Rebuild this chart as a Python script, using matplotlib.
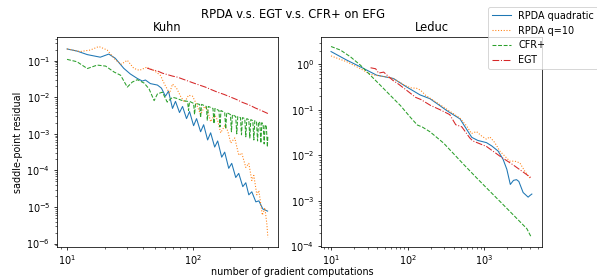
import matplotlib
matplotlib.use('Agg')
import matplotlib.pyplot as plt

# ---- Kuhn ----
kuhn_quad_x = [10, 12.0, 14.5, 18.4, 21.5, 24.2, 28.3, 31.9, 36.3, 39.8,
               42.1, 46.1, 52.5, 56.5, 60.8, 64.3, 69.2, 73.1, 78.7, 83.2,
               89.5, 94.6, 101.9, 107.6, 115.9, 122.5, 131.8, 139.3, 150, 158.5,
               170.6, 180.3, 194.1, 205.1, 220.8, 233.3, 251.2, 265.5, 280.5, 296.5,
               319.2, 337.3, 363.1, 396]
kuhn_quad_y = [0.21, 0.184, 0.147, 0.125, 0.152, 0.117, 0.062, 0.0435, 0.0327, 0.0278,
               0.0297, 0.0237, 0.0216, 0.0178, 0.0107, 0.0147, 0.00495, 0.00774, 0.00383, 0.00562,
               0.00261, 0.00408, 0.00167, 0.00261, 0.00114, 0.00178, 0.00068, 0.00107, 0.000435, 0.00064,
               0.00023, 0.000316, 0.000114, 0.000156, 6.4e-5, 8.3e-5, 3.6e-5, 4.6e-5, 2.15e-5, 2.6e-5,
               1.38e-5, 1.47e-5, 8.8e-6, 7.7e-6]

kuhn_q10_x = [10, 12.7, 15.3, 17.9, 20.9, 24.2, 27.0, 30.2, 34.0, 37.7,
              42.9, 49.2, 55.5, 59.7, 65.5, 69.2, 74.5, 80.2, 86.3, 92.9,
              100, 107.6, 115.9, 124.7, 131.8, 139.3, 150, 158.5, 167.5, 180.3,
              190.5, 201.4, 216.8, 233.3, 246.6, 265.5, 280.5, 296.5, 307.6, 325.1,
              337.3, 359.7, 376.7, 390.8, 398]
kuhn_q10_y = [0.21, 0.178, 0.196, 0.245, 0.196, 0.107, 0.080, 0.103, 0.062, 0.0545,
              0.066, 0.0545, 0.0396, 0.023, 0.0129, 0.023, 0.0178, 0.0107, 0.00726, 0.0114,
              0.0107, 0.0064, 0.00337, 0.00562, 0.00435, 0.00215, 0.00337, 0.0023, 0.00107, 0.00167,
              0.00121, 0.000562, 0.000774, 0.000261, 0.000297, 0.000121, 0.000156, 5.3e-5, 7.3e-5, 2.15e-5,
              2.8e-5, 6.0e-6, 9.4e-6, 3.4e-6, 1.47e-6]

kuhn_cfr_x = [10, 12.0, 14.5, 17.4, 20.3, 23.6, 26.7, 30.2, 33.1, 36.3,
              41.1, 45.0, 49.4, 52.5, 57.5, 62.8, 69.2, 74.5, 81.7,
              91.2, 92.9, 94.6, 101.9, 103.7, 105.7, 113.8, 115.9, 118.0,
              128.7, 131.1, 133.5, 145.4, 148.1, 150.8, 162.3, 165.3, 168.4,
              180.3, 183.7, 187.1, 200.3, 204.0, 207.8, 220.8, 224.9, 229.1,
              240.8, 245.3, 249.8, 260.6, 265.5, 270.4, 280.5, 285.8, 291.1,
              302.0, 307.6, 313.3, 323.3, 329.4, 335.5, 343.6, 350.0, 356.5,
              365.1, 371.9, 378.8, 387.3, 394.5, 398]
kuhn_cfr_y = [0.109, 0.0938, 0.0611, 0.076, 0.0713, 0.0495, 0.0401, 0.019, 0.0261, 0.0303,
              0.0245, 0.017, 0.0081, 0.0124, 0.0138, 0.0074, 0.0100, 0.00938, 0.00826,
              0.00774, 0.00435, 0.00774, 0.00681, 0.00337, 0.00681, 0.00639, 0.00278, 0.00639,
              0.00562, 0.0023, 0.00562, 0.00495, 0.0019, 0.00495, 0.00435, 0.00156, 0.00435,
              0.00383, 0.00138, 0.00383, 0.00337, 0.00114, 0.00337, 0.00297, 0.0010, 0.00297,
              0.00278, 0.00094, 0.00278, 0.00261, 0.00083, 0.00261, 0.00245, 0.00077, 0.00245,
              0.0023, 0.00068, 0.0023, 0.00215, 0.00064, 0.00215, 0.00202, 0.00056, 0.00202,
              0.00178, 0.00053, 0.00178, 0.00156, 0.000435, 0.0009]

kuhn_egt_x = [43.4, 47.9, 52.5, 57.5, 63.1, 69.2, 75.9, 83.2, 91.2, 100, 112,
              126, 141, 158, 178, 200, 224, 251, 282, 316, 355, 398]
kuhn_egt_y = [0.063, 0.056, 0.0525, 0.0457, 0.0417, 0.038, 0.0355, 0.0316, 0.0282, 0.0251, 0.0219,
              0.0191, 0.0162, 0.0138, 0.012, 0.0102, 0.0087, 0.0072, 0.0062, 0.0051, 0.0043, 0.0036]

# ---- Leduc ----
leduc_quad_x = [10, 15.9, 26.4, 39.3, 65.0, 97.0, 144.8, 195.6, 262, 323.4,
                482.8, 585.4, 686.6, 822.4, 1069, 1253, 1515, 1762, 1969, 2187,
                2408, 2636, 2825, 3215, 3737, 3934, 4179]
leduc_quad_y = [1.905, 1.246, 0.815, 0.578, 0.489, 0.318, 0.2133, 0.1756, 0.1246, 0.0965,
                0.0631, 0.0378, 0.0249, 0.0213, 0.01905, 0.0161, 0.01246, 0.00815, 0.00496, 0.0023,
                0.00283, 0.00293, 0.00268, 0.00153, 0.00121, 0.00131, 0.001416]

leduc_q10_x = [10, 16.3, 24.3, 32.8, 54.3, 66.2, 91.4, 109.4, 131.1, 147.9,
               171.9, 262, 478.4, 585.4, 680.4, 790.7, 919.1, 1069, 1180, 1372,
               1594, 1854, 2154, 2504, 2911, 3384, 3934]
leduc_q10_y = [1.53, 1.125, 0.798, 0.60, 0.522, 0.479, 0.3467, 0.305, 0.2974, 0.2685,
               0.2078, 0.1312, 0.0664, 0.0448, 0.0302, 0.0334, 0.0268, 0.02267, 0.0255, 0.01905,
               0.01246, 0.00965, 0.00747, 0.00747, 0.00685, 0.00448, 0.00318]

leduc_cfr_x = [10, 13.31, 17.98, 24.3, 32.8, 44.4, 59.9, 81.0, 109.4, 133.9,
               155.6, 195.6, 292.9, 395.8, 534.8, 798, 1191, 1782, 2660, 3594, 4115]
leduc_cfr_y = [2.46, 2.047, 1.453, 0.95, 0.57, 0.3415, 0.2048, 0.1227, 0.0674, 0.0464,
               0.0419, 0.033, 0.01877, 0.01096, 0.0064, 0.00318, 0.00161, 0.000815, 0.000411,
               0.000246, 0.000158]

leduc_egt_x = [32.8, 38.2, 41.8, 48.6, 63.7, 76.3, 97.0, 127.2, 147.9, 199.8, 262,
               354, 424.2, 508.1, 646.3, 707.4, 1069, 1594, 2358, 3253, 4179]
leduc_egt_y = [0.84, 0.798, 0.641, 0.674, 0.448, 0.365, 0.2685, 0.1877, 0.1694, 0.1246, 0.1015,
               0.0786, 0.0471, 0.0425, 0.02423, 0.0208, 0.0157, 0.00965, 0.00625, 0.00425, 0.00313]

labels = ['RPDA quadratic', 'RPDA q=10', 'CFR+', 'EGT']
styles = ['-', ':', '--', '-.']
colors = ['tab:blue', 'tab:orange', 'tab:green', 'tab:red']

DPI = 69


def plot_game(ax, series, title):
    for (xs, ys), lab, ls, c in zip(series, labels, styles, colors):
        ax.plot(xs, ys, ls, color=c, lw=1.1, label=lab)
    ax.set_xscale('log')
    ax.set_yscale('log')
    ax.set_title(title)


fig = plt.figure(figsize=(597 / DPI, 280 / DPI), dpi=DPI)
ax1 = fig.add_axes([0.0955, 0.118, 0.370, 0.75])
ax2 = fig.add_axes([0.5377, 0.118, 0.370, 0.75])

plot_game(ax1, [(kuhn_quad_x, kuhn_quad_y), (kuhn_q10_x, kuhn_q10_y),
                (kuhn_cfr_x, kuhn_cfr_y), (kuhn_egt_x, kuhn_egt_y)], 'Kuhn')
plot_game(ax2, [(leduc_quad_x, leduc_quad_y), (leduc_q10_x, leduc_q10_y),
                (leduc_cfr_x, leduc_cfr_y), (leduc_egt_x, leduc_egt_y)], 'Leduc')

ax1.set_ylabel('saddle-point residual')
fig.text(0.49, 0.95, 'RPDA v.s. EGT v.s. CFR+ on EFG', ha='center', va='center', fontsize='large')
fig.text(0.49, 0.028, 'number of gradient computations', ha='center', va='center')

handles, labs = ax1.get_legend_handles_labels()
fig.legend(handles, labs, loc='upper left', bbox_to_anchor=(0.817, 0.975), borderaxespad=0.0)

fig.savefig('out.png', dpi=DPI)
